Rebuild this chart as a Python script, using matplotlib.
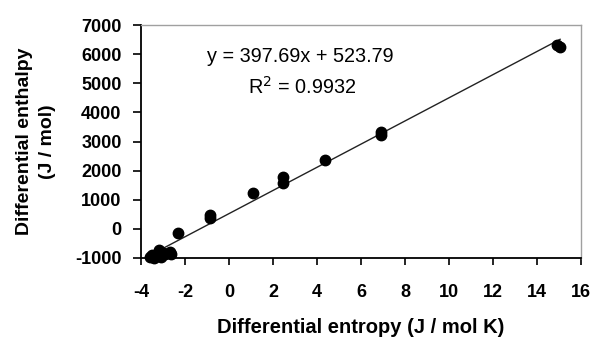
import numpy as np
import matplotlib
matplotlib.use("Agg")
import matplotlib.pyplot as plt

plt.rcParams['font.family'] = ['Liberation Sans', 'DejaVu Sans']
plt.rcParams['axes.unicode_minus'] = False

# data
entropy = [-3.6, -3.5, -3.4, -3.3, -3.2, -3.1, -3.0, -2.9, -2.7, -2.65,
           -2.3, -0.85, -0.85, 1.08, 2.47, 2.47, 4.35, 6.9, 6.9, 14.9, 15.05]
enthalpy = [-980, -900, -1000, -880, -720, -950, -820, -870, -780, -870,
            -150, 480, 380, 1220, 1780, 1580, 2360, 3320, 3220, 6300, 6250]

slope, intercept = 397.69, 523.79
r2 = 0.9932

xticks = np.arange(-4, 17, 2)
yticks = np.arange(-1000, 7001, 1000)

fig = plt.figure(figsize=(5.91, 3.38), dpi=100)
ax = fig.add_axes([141/591, 1 - 258/338, 440/591, 233/338])

# trendline over the data range
xl = np.array([min(entropy), max(entropy)])
ax.plot(xl, slope * xl + intercept, color='#222222', lw=1.0, zorder=2)
ax.plot(entropy, enthalpy, 'o', color='black', ms=7.5, zorder=3, clip_on=False)

ax.set_xlim(-4, 16)
ax.set_ylim(-1000, 7000)
ax.set_xticks(xticks)
ax.set_yticks(yticks)

for s in ['top', 'right']:
    ax.spines[s].set_color('#a0a0a0')
    ax.spines[s].set_linewidth(1.0)
for s in ['left', 'bottom']:
    ax.spines[s].set_color('black')
    ax.spines[s].set_linewidth(1.3)

ax.tick_params(axis='y', direction='out', length=6, width=1.2, pad=8,
               labelsize=13)
ax.tick_params(axis='x', direction='out', length=5, width=1.2, pad=14,
               labelsize=13)
for lab in ax.get_xticklabels() + ax.get_yticklabels():
    lab.set_fontweight('bold')

ax.set_xlabel('Differential entropy (J / mol K)', fontsize=14.5,
              fontweight='bold', labelpad=12)
ax.set_ylabel('Differential enthalpy\n(J / mol)', fontsize=14,
              fontweight='bold', labelpad=14, linespacing=1.45)

ax.text(207 / 591, 1 - 57 / 338, f'y = {slope}x + {intercept}',
        transform=fig.transFigure, fontsize=14.3, va='center', ha='left')
ax.text(248 / 591, 1 - 87 / 338, f'R$^2$ = {r2}',
        transform=fig.transFigure, fontsize=14.3, va='center', ha='left')

fig.savefig('out.png', dpi=100)
